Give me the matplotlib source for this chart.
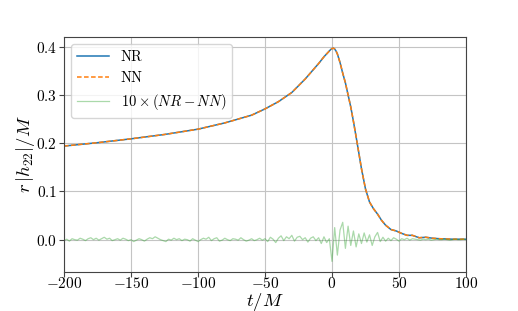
import numpy as np
import matplotlib
matplotlib.use('Agg')
import matplotlib.pyplot as plt

plt.rcParams.update({'font.family': 'serif', 'font.serif': ['cmr10'],
                     'mathtext.fontset': 'cm', 'axes.formatter.use_mathtext': True,
                     'axes.unicode_minus': True})

# amplitude of NR waveform
t_amp = [-200, -175, -150, -125, -100, -80, -60, -50, -40, -30, -20, -15, -10, -6, -3, -1, 0, 1,
         2, 3, 4, 6, 8, 10, 12, 14, 16, 18, 20, 22, 25, 28, 31, 34, 37, 40, 44, 48, 52, 56, 60,
         65, 70, 75, 80, 90, 100]
nr_amp = [0.194, 0.201, 0.209, 0.218, 0.229, 0.242, 0.258, 0.271, 0.286, 0.305, 0.333, 0.349,
          0.365, 0.379, 0.388, 0.394, 0.396, 0.397, 0.395, 0.391, 0.385, 0.367, 0.345, 0.325,
          0.300, 0.275, 0.245, 0.213, 0.180, 0.147, 0.105, 0.078, 0.064, 0.053, 0.040, 0.030,
          0.021, 0.018, 0.013, 0.009, 0.009, 0.004, 0.005, 0.003, 0.002, 0.001, 0.001]
nn_amp = list(nr_amp)

# 10 x (NR - NN), in units of 1e-3, every 2 M from -200 to 100
res_1e3 = [-2, 1, -3, 2, 0, -1, 3, 1, -2, 2, 4, 0, 3, -1, 2,
           5, 1, 3, -2, 0, 2, -1, 3, 1, -2, 0, -4, -1, 2, 0,
           -3, 1, 4, 2, 6, 3, 0, -2, -4, 1, -1, 3, 0, 2, -2,
           1, 0, -3, 2, -1, -4, 0, 3, 1, 5, -2, 2, 4, -3, -1,
           3, 0, -2, 2, 1, -1, 4, 0, -3, -1, 2, -2, 0, 3, -1,
           2, -4, 5, 1, -6, 3, 8, -2, 6, 2, 9, -3, 5, 7, 0, 4, -5, 3, 6, -2,
           4, -8, 6, -6, 2,
           -45, 25, -32, 20, 36, -18, 28, -12, 18, -15, 12,
           -8, 14, -5, 10, -12, 6, 15, -4, 5, -3,
           3, -2, 4, 1, -3, 2, 0, 3, -1, 2,
           1, 0, -1, 1, 0, 1, -1, 0, 1, 0, 0, 1, 0, -1, 0, 1, 0, 0, 1, 0]
t_res = np.arange(-200, 101, 2)

fig = plt.figure(figsize=(5.18, 3.11), dpi=100)
ax = fig.add_axes([0.1236, 0.1254, 0.776, 0.7556])

ax.plot(t_amp, nr_amp, color='tab:blue', lw=1.1, label='NR')
ax.plot(t_amp, nn_amp, color='tab:orange', lw=1.1, ls='--', dashes=(3, 1.6), label='NN')
ax.plot(t_res, np.array(res_1e3) * 1e-3, color='tab:green', lw=0.9, alpha=0.4,
        label=r'$10\times(NR-NN)$')

ax.set_xlim(-200, 100)
ax.set_ylim(-0.067, 0.42)
ax.set_xticks([-200, -150, -100, -50, 0, 50, 100])
ax.set_yticks([0.0, 0.1, 0.2, 0.3, 0.4])
ax.grid(True, color='#c4c4c4', lw=0.8)
ax.set_axisbelow(True)
for s in ax.spines.values():
    s.set_color('#444444')
ax.tick_params(labelsize=11, color='#444444', length=3.5, pad=1.5)
ax.tick_params(axis='x', pad=-0.5)
ax.set_xlabel(r'$t/M$', fontsize=13.5)
ax.set_ylabel(r'$r\,|h_{22}|/M$', fontsize=13.5)
ax.xaxis.set_label_coords(0.5, -0.08)
ax.yaxis.set_label_coords(-0.068, 0.5)
ax.legend(loc='upper left', fontsize=10.5, framealpha=0.8, handlelength=2.2)

fig.savefig('out.png', dpi=100)
